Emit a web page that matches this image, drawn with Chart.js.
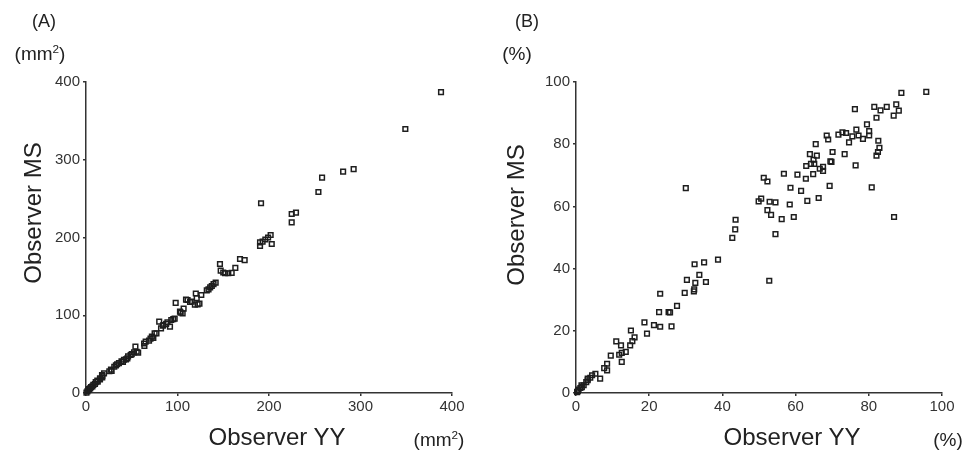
<!DOCTYPE html>
<html>
<head>
<meta charset="utf-8">
<script src="https://cdn.jsdelivr.net/npm/chart.js@4.4.1/dist/chart.umd.min.js"></script>
<style>
  html, body { margin: 0; padding: 0; background: #fff; }
  #wrap { position: relative; width: 968px; height: 454px; overflow: hidden; font-family: "Liberation Sans", Arial, sans-serif; color: #222; }
  canvas { position: absolute; top: 0; }
  .lbl { position: absolute; white-space: nowrap; transform: translate(-50%, -50%); line-height: 1; }
  .rot { transform: translate(-50%, -50%) rotate(-90deg); }
  sup { font-size: 0.62em; vertical-align: 0.55em; line-height: 0; }
</style>
</head>
<body>
<div id="wrap">
  <canvas id="cA" width="484" height="454" style="left:0px"></canvas>
  <canvas id="cB" width="484" height="454" style="left:484px"></canvas>

  <div class="lbl" style="left:44px; top:21px; font-size:18px;">(A)</div>
  <div class="lbl" style="left:40px; top:53px; font-size:19px;">(mm<sup>2</sup>)</div>
  <div class="lbl rot" style="left:33px; top:213px; font-size:24px;">Observer MS</div>
  <div class="lbl" style="left:277px; top:437px; font-size:24px;">Observer YY</div>
  <div class="lbl" style="left:439px; top:439px; font-size:19px;">(mm<sup>2</sup>)</div>

  <div class="lbl" style="left:527px; top:21px; font-size:18px;">(B)</div>
  <div class="lbl" style="left:517px; top:53px; font-size:19px;">(%)</div>
  <div class="lbl rot" style="left:516px; top:215px; font-size:24px;">Observer MS</div>
  <div class="lbl" style="left:792px; top:437px; font-size:24px;">Observer YY</div>
  <div class="lbl" style="left:948px; top:439px; font-size:19px;">(%)</div>
</div>
<script>
// Panel A: area (mm²), Observer YY (x) vs Observer MS (y)
const areaYY = [0.5,1.5,2.5,3.3,4.5,5.5,7,8,9.8,10.6,12.4,12.8,15.3,15.3,17.8,17.8,19.7,17.5,25.5,27.3,28,30.9,32.7,34,36,38.8,40.4,41.5,43.7,45.2,46,48.8,50,52.5,55.4,57,54,63.5,63.8,65.2,68.9,70.5,72,73.6,75,77,80,82,84,84.5,87.6,89,91.8,93.2,95.4,96.9,98,102.7,103.5,105.6,106.7,109.3,111,113.7,115.5,119,120,121,122,124,126,132,133.9,135.7,137.5,139.4,141.7,146.4,147.2,150,152,155.5,159.2,163.2,168.3,173.4,190.2,190.2,191.3,193,196,199,201.8,203,224.8,229.5,224.8,254,258,281,292.5,349,388];
const areaMS = [0.5,2,3.5,5,6,7.5,8.5,10.5,11.6,13.9,16,14.6,17.6,19,20,22,25.3,23,28,30,28.5,33.8,35.5,37,38.5,40.6,40,42.8,43.3,44.6,47,48.9,50,52.3,53.1,52,59.6,63.7,60.5,66,67.3,70,72.5,71,76.8,76.7,91.7,83.2,86.5,87.5,89,91,85.3,93.9,95,95.7,116,104.6,103.3,102.5,108.5,120,119.6,117,117.5,113.5,128,122,114,115,126,132,133.3,135.9,137.6,140,141.9,165.9,157.3,155,154,154,154.5,161,172.3,171,193.8,189.1,244,194.8,197.4,200,203.2,191.6,230.2,231.9,219.5,258.5,277,284.7,288,339.5,387];

// Panel B: percent, Observer YY (x) vs Observer MS (y)
const pctYY = [95.7,88.9,87.5,88.2,86.8,84.9,83.2,81.5,82.1,76.2,79.5,80.1,80.1,76.6,77.2,78.4,75.5,74.6,72.8,73.8,71.7,68.5,68.9,82.6,82.9,82.5,82.1,76.4,73.4,70.1,65.5,63.9,65.8,64.9,62.9,64.2,65.1,69.5,69.8,66.6,67.5,67.5,64.8,62.8,60.5,56.8,69.3,80.8,66.3,63.2,61.5,58.6,58.4,59.5,56.2,54.5,53.3,52.3,52.9,54.5,51.3,52.3,50.6,49.9,86.9,52.8,30,43.6,43.5,42.7,38.8,35,32.4,33.7,35.5,30.3,32.6,32.3,32.2,29.7,23,27.6,22.7,25.3,25.7,26.1,23,21.3,18.7,19.4,15,16,15.4,14.8,11,12.3,11.8,13.6,12.5,12.5,9.5,8.5,7.7,8.5,6.6,5.3,4.4,3.9,3.2,3.2,2.8,2.1,1.5,1.6,1.2,0.7,0.5,0.3];
const pctMS = [96.8,96.5,92.8,90.8,89.2,92,90.9,92,88.5,91.3,86.4,84.2,82.8,84.7,82.8,81.7,82.5,80.6,83.8,83.6,83.1,82.8,81.5,81.1,78.8,77.5,76.3,73.2,76.8,77.5,80,76.8,76.3,75,73,73.7,73.7,74.5,74.3,72.1,72.7,71.4,70.4,68.9,70.2,70.5,66.6,66.1,62.7,61.8,65,66,60.6,56.6,55.9,51.1,57.3,58.8,61.5,61.3,69.2,68,62.5,61.6,56.6,36.1,65.9,55.7,52.6,49.9,42.9,42,41.4,38,35.7,36.4,35.4,33.3,32.7,32.2,31.9,28,26,26,25.9,21.4,21.3,21.8,22.7,19.1,20.1,17.9,16.7,15.3,16.6,15.3,12.3,13.2,12.9,10,12,9.4,8,7.3,4.6,6.2,5.7,4.9,4.6,4.1,3.5,2.5,2.5,1.9,1.6,1.1,0.6,0.3];

const axisA = { min: 0, max: 400, step: 100 };
const axisB = { min: 0, max: 100, step: 20 };

function pts(xs, ys) { return xs.map((x, i) => ({ x: x, y: ys[i] })); }

function makeChart(id, xs, ys, ax, yWidth, rightPad) {
  const tickFont = { family: '"Liberation Sans", Arial, sans-serif', size: 15 };
  const gridCfg = { drawOnChartArea: false, drawTicks: true, tickLength: 3, color: '#333', lineWidth: 1.5 };
  const borderCfg = { display: true, color: '#333', width: 1.5 };
  return new Chart(document.getElementById(id), {
    type: 'scatter',
    data: {
      datasets: [{
        data: pts(xs, ys),
        pointStyle: 'rect',
        radius: 3.3,
        hoverRadius: 3.3,
        borderWidth: 1.5,
        borderColor: '#1e1e1e',
        backgroundColor: 'rgba(255,255,255,0)',
        clip: false
      }]
    },
    options: {
      responsive: false,
      animation: false,
      devicePixelRatio: 1,
      events: [],
      layout: { padding: { top: 82, right: rightPad, bottom: 0, left: 0 } },
      plugins: { legend: { display: false }, tooltip: { enabled: false } },
      scales: {
        x: {
          type: 'linear', min: ax.min, max: ax.max,
          ticks: { stepSize: ax.step, color: '#333', font: tickFont, padding: 2, maxRotation: 0 },
          grid: gridCfg, border: borderCfg,
          afterFit: (s) => { s.height = 61; }
        },
        y: {
          type: 'linear', min: ax.min, max: ax.max,
          ticks: { stepSize: ax.step, color: '#333', font: tickFont, padding: 3 },
          grid: gridCfg, border: borderCfg,
          afterFit: (s) => { s.width = yWidth; }
        }
      }
    }
  });
}

makeChart('cA', areaYY, areaMS, axisA, 86, 32);
makeChart('cB', pctYY, pctMS, axisB, 92, 26);
</script>
</body>
</html>
